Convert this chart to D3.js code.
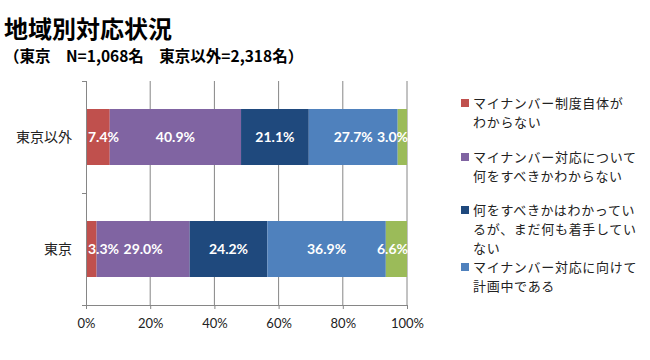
<!DOCTYPE html>
<html>
<head>
<meta charset="utf-8">
<script src="https://cdn.jsdelivr.net/npm/d3@7"></script>
<style>
  body { margin: 0; background: #fff; }
  svg { display: block; }
  .axis text { font-family: Lato, "Liberation Sans", sans-serif; font-size: 13px; fill: #222; }
  .axis path, .axis line { stroke: #868686; }
</style>
</head>
<body>
<div id="chart"></div>
<script>

var categories = ["東京以外", "東京"];
var seriesNames = [
    "マイナンバー制度自体がわからない",
    "マイナンバー対応について何をすべきかわからない",
    "何をすべきかはわかっているが、まだ何も着手していない",
    "マイナンバー対応に向けて計画中である",
    "対応済み"
];
// legend lines as they wrap in the picture (fifth entry is cut off)
var legendLines = [
    ["マイナンバー制度自体が", "わからない"],
    ["マイナンバー対応について", "何をすべきかわからない"],
    ["何をすべきかはわかってい", "るが、まだ何も着手してい", "ない"],
    ["マイナンバー対応に向けて", "計画中である"]
];
var valuesOther = [7.4, 40.9, 21.1, 27.7, 3.0];
var valuesTokyo = [3.3, 29.0, 24.2, 36.9, 6.6];
var xTicks = [0, 20, 40, 60, 80, 100];
var colors = ["#C0504D", "#8064A2", "#1F497D", "#4F81BD", "#9BBB59"];

function drawChart(containerId){

    var width = 650, height = 360;
    var margin = {top: 81, right: 243, bottom: 55, left: 86};

    var svg = d3.select('#'+containerId).append("svg")
        .attr("width", width)
        .attr("height", height);

    svg.append("text")
        .attr("x", 4).attr("y", 38)
        .attr("font-family", "'Noto Sans CJK JP', sans-serif")
        .attr("font-weight", "bold")
        .attr("font-size", 24)
        .text("地域別対応状況");

    svg.append("text")
        .attr("x", 4).attr("y", 62)
        .attr("font-family", "'Noto Sans CJK JP', sans-serif")
        .attr("font-weight", "bold")
        .attr("font-size", 15.5)
        .text("（東京　N=1,068名　東京以外=2,318名）");

    var x = d3.scaleLinear()
        .domain([0, 100])
        .range([margin.left, width - margin.right]);

    var y = d3.scaleBand()
        .domain(categories)
        .range([margin.top, height - margin.bottom])
        .paddingInner(0.5)
        .paddingOuter(0.25);

    var y0 = margin.top, y1 = height - margin.bottom;

    // vertical gridlines
    svg.selectAll("line.grid")
        .data(xTicks.slice(1))
        .enter().append("line")
        .attr("class", "grid")
        .attr("x1", d => x(d)).attr("x2", d => x(d))
        .attr("y1", y0).attr("y2", y1)
        .style("stroke", "#868686");

    var rows = categories.map(function(c, i){
        var vals = i == 0 ? valuesOther : valuesTokyo;
        var acc = 0;
        return vals.map(function(v, j){
            var seg = {cat: c, k: j, x0: acc, x1: acc + v, v: v};
            acc += v;
            return seg;
        });
    });
    var segs = [].concat.apply([], rows);

    svg.append("g").selectAll("rect")
        .data(segs)
        .join("rect")
        .attr("x", d => x(d.x0))
        .attr("width", d => Math.max(0, x(Math.min(d.x1, 100)) - x(d.x0)))
        .attr("y", d => y(d.cat))
        .attr("height", y.bandwidth())
        .attr("fill", d => colors[d.k]);

    // data labels, kept inside the plot area
    var labels = svg.append("g")
        .attr("font-family", "Lato, 'Liberation Sans', sans-serif")
        .attr("font-weight", "bold")
        .attr("font-size", 14)
        .attr("fill", "#fff")
        .selectAll("text")
        .data(segs)
        .join("text")
        .attr("y", d => y(d.cat) + y.bandwidth() / 2)
        .attr("dy", "0.35em")
        .text(d => d.v.toFixed(1) + "%");

    labels.each(function(d){
        var w = this.getComputedTextLength();
        var cx = x((d.x0 + Math.min(d.x1, 100)) / 2);
        var left = cx - w / 2;
        if (left < x(0) + 2) left = x(0) + 2;
        if (left + w > x(100) + 1) left = x(100) + 1 - w;
        d3.select(this).attr("x", left);
    });

    // axes
    var xAxis = g => g
        .attr("class", "axis")
        .attr("transform", `translate(0,${y1})`)
        .call(d3.axisBottom(x).tickValues(xTicks).tickFormat(d => d + "%").tickSize(4).tickSizeOuter(0))
        .call(g => g.select(".domain").attr("d", `M${x(0) - 4},0.5H${x(100)}`))
        .call(g => g.selectAll(".tick text").attr("dy", "1.25em"));

    svg.append("g").call(xAxis);

    svg.append("line")
        .attr("x1", x(0) + 0.5).attr("x2", x(0) + 0.5)
        .attr("y1", y0).attr("y2", y1)
        .style("stroke", "#868686");

    svg.selectAll("line.ytick")
        .data([y0, (y0 + y1) / 2, y1])
        .enter().append("line")
        .attr("x1", x(0) - 4).attr("x2", x(0))
        .attr("y1", d => d + 0.5).attr("y2", d => d + 0.5)
        .style("stroke", "#868686");

    svg.append("g").selectAll("text")
        .data(categories)
        .join("text")
        .attr("x", x(0) - 14)
        .attr("y", d => y(d) + y.bandwidth() / 2)
        .attr("dy", "0.35em")
        .attr("text-anchor", "end")
        .attr("font-family", "'Noto Sans CJK JP', sans-serif")
        .attr("font-size", 14)
        .attr("fill", "#222")
        .text(d => d);

    // legend
    var legendTop = [103, 157, 210, 267];
    var lineGap = 19;
    var legend = svg.append("g")
        .attr("font-family", "'Noto Sans CJK JP', sans-serif")
        .attr("font-size", 13)
        .attr("letter-spacing", 0.7)
        .attr("fill", "#222")
        .selectAll("g")
        .data(legendLines)
        .join("g")
        .attr("transform", (d, i) => `translate(461,${legendTop[i]})`);

    legend.append("rect")
        .attr("x", 0).attr("y", -4)
        .attr("width", 8).attr("height", 8)
        .attr("fill", (d, i) => colors[i]);

    legend.append("text")
        .selectAll("tspan")
        .data(d => d)
        .join("tspan")
        .attr("x", 12)
        .attr("y", (d, i) => i * lineGap)
        .attr("dy", "0.35em")
        .text(d => d);
}

drawChart('chart');
</script>
</body>
</html>
